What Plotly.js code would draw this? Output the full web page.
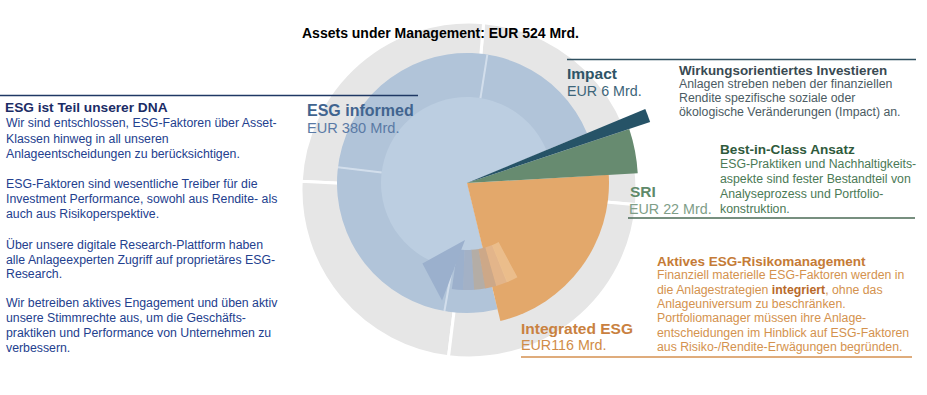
<!DOCTYPE html>
<html>
<head>
<meta charset="utf-8">
<script src="https://cdn.plot.ly/plotly-3.0.1.min.js"></script>
<style>
html,body{margin:0;padding:0;width:927px;height:395px;overflow:hidden;background:#fff;}
#chart{position:absolute;left:0;top:-65px;width:927px;height:460px;}
</style>
</head>
<body>
<div id="chart"></div>
<script>
// ---------------- data ----------------
const categories = ['Integrated ESG', 'SRI', 'Impact', 'ESG informed'];
const aumValues = [116, 22, 6, 380];            // EUR Mrd.
const totalAum = 524;                            // EUR Mrd.
const valueLabels = ['EUR116 Mrd.', 'EUR 22 Mrd.', 'EUR 6 Mrd.', 'EUR 380 Mrd.'];
const chartTitle = 'Assets under Management: EUR 524 Mrd.';

// ---------------- styles ----------------
const sliceColors = ['#e3a86b', '#678b70', '#265367', '#b1c4d9'];
const sliceRadius = [142, 171, 193, 130];        // visual radius (px) per slice
const startAngle = -76.4;                        // where the first slice begins
const FONT = 'Liberation Sans, Arial, sans-serif';

const W = 927, H = 460, OFF = 65;
const X = px => px / W;
const Y = py => 1 - (py + OFF) / H;
const dom = (cx, cy, R) => ({x: [X(cx - R), X(cx + R)], y: [Y(cy + R), Y(cy - R)]});

// slice geometry from values
const widths = aumValues.map(v => v / totalAum * 360);
const thetas = [];
let acc = startAngle;
widths.forEach(w => { thetas.push(acc + w / 2); acc += w; });

const traces = [];

// decorative grey outer ring (background subplot)
const ringCenters = [40, 131, 220, 309];
const ringWidths = [90, 92, 86, 92];
traces.push({
  type: 'barpolar', subplot: 'polar',
  theta: ringCenters, width: ringWidths,
  r: ringCenters.map(() => 58), base: ringCenters.map(() => 110),
  marker: {color: '#e6e6e6', line: {color: '#ffffff', width: 3}},
  hoverinfo: 'skip', showlegend: false
});

// data slices (ESG informed first so it sits below)
const order = [3, 0, 1, 2];
order.forEach(i => {
  traces.push({
    type: 'barpolar', subplot: 'polar2', name: categories[i],
    theta: [thetas[i]], width: [widths[i]], r: [sliceRadius[i]],
    marker: {color: sliceColors[i], line: {width: 0}},
    hovertemplate: categories[i] + ': ' + aumValues[i] + ' Mrd.<extra></extra>',
    showlegend: false
  });
  if (i === 3) {
    // lighter inner core of the ESG informed disc
    traces.push({
      type: 'barpolar', subplot: 'polar2',
      theta: [thetas[i]], width: [widths[i]], r: [86],
      marker: {color: '#bccee1', line: {width: 0}},
      hoverinfo: 'skip', showlegend: false
    });
    // faint segment separators in the blue band
    [81, 173, 260].forEach(a => {
      traces.push({
        type: 'scatterpolar', subplot: 'polar2', mode: 'lines',
        theta: [a, a], r: [86, 130],
        line: {color: 'rgba(214,225,237,0.9)', width: 2},
        hoverinfo: 'skip', showlegend: false
      });
    });
  }
});

// decorative curved arrow (blue fading into orange)
const arrowBody = [265, 271, 277, 283, 289, 295];
const arrowCols = ['#9cb0cc', '#a3b1c6', '#b4ada6', '#cda888', '#e3b58a', 'rgba(238,196,150,0.75)'];
traces.push({
  type: 'barpolar', subplot: 'polar2',
  theta: arrowBody, width: arrowBody.map(() => 6.3),
  r: arrowBody.map(() => 40), base: arrowBody.map(() => 67),
  marker: {color: arrowCols, line: {width: 0}},
  hoverinfo: 'skip', showlegend: false
});
traces.push({
  type: 'scatterpolar', subplot: 'polar2', mode: 'lines',
  theta: [268, 241, 258, 268], r: [57, 92, 120, 57],
  fill: 'toself', fillcolor: '#9bb0cd', line: {width: 0, color: '#9bb0cd'},
  hoverinfo: 'skip', showlegend: false
});

// ---------------- text ----------------
const ann = [];
function txt(x, y, text, size, color, opts) {
  ann.push(Object.assign({
    xref: 'paper', yref: 'paper', x: X(x - 2), y: Y(y), text: text,
    showarrow: false, xanchor: 'left', yanchor: 'middle',
    font: {family: FONT, size: size, color: color}
  }, opts || {}));
}

txt(442, 33, '<b>' + chartTitle + '</b>', 14, '#000000', {xanchor: 'center'});

// left block
txt(5, 108, '<b>ESG ist Teil unserer DNA</b>', 13.7, '#1b2c66');
const leftLines = [
  'Wir sind entschlossen, ESG-Faktoren über Asset-',
  'Klassen hinweg in all unseren',
  'Anlageentscheidungen zu berücksichtigen.',
  'ESG-Faktoren sind wesentliche Treiber für die',
  'Investment Performance, sowohl aus Rendite- als',
  'auch aus Risikoperspektive.',
  'Über unsere digitale Research-Plattform haben',
  'alle Anlageexperten Zugriff auf proprietäres ESG-',
  'Research.',
  'Wir betreiben aktives Engagement und üben aktiv',
  'unsere Stimmrechte aus, um die Geschäfts-',
  'praktiken und Performance von Unternehmen zu',
  'verbessern.'
];
const leftY = [123, 139, 154, 184, 199, 214, 245, 260, 274, 303, 318, 333, 348];
leftLines.forEach((l, k) => txt(6, leftY[k], l, 12.3, '#23408e'));

// slice labels
txt(307, 110, '<b>' + categories[3] + '</b>', 16, '#41648f');
txt(307, 128, valueLabels[3], 14.6, '#5a7aa5');
txt(567, 74, '<b>' + categories[2] + '</b>', 15.5, '#2e5466');
txt(567, 91, valueLabels[2], 14.3, '#3d6579');
txt(630, 191, '<b>' + categories[1] + '</b>', 15.5, '#5f8a6a');
txt(629, 209, valueLabels[1], 14.3, '#809e88');
txt(521, 328, '<b>' + categories[0] + '</b>', 15.5, '#c98140');
txt(521, 345, valueLabels[0], 14.3, '#d08c48');

// right descriptions
txt(679, 70, '<b>Wirkungsorientiertes Investieren</b>', 13.4, '#3a4a52');
['Anlagen streben neben der finanziellen', 'Rendite spezifische soziale oder',
 'ökologische Veränderungen (Impact) an.'].forEach((l, k) => txt(679, [84, 98, 112][k], l, 12.3, '#4b5b63'));

txt(720, 149, '<b>Best-in-Class Ansatz</b>', 13.6, '#2f5a3c');
['ESG-Praktiken und Nachhaltigkeits-', 'aspekte sind fester Bestandteil von',
 'Analyseprozess und Portfolio-', 'konstruktion.'].forEach((l, k) => txt(720, [164, 179, 194, 209][k], l, 12.3, '#4b7a56'));

txt(657, 261, '<b>Aktives ESG-Risikomanagement</b>', 13.5, '#c57b36');
['Finanziell materielle ESG-Faktoren werden in',
 'die Anlagestrategien <b><span style="color:#b8692a">integriert</span></b>, ohne das',
 'Anlageuniversum zu beschränken.',
 'Portfoliomanager müssen ihre Anlage-',
 'entscheidungen im Hinblick auf ESG-Faktoren',
 'aus Risiko-/Rendite-Erwägungen begründen.'].forEach((l, k) => txt(657, [275, 290, 304, 318, 333, 347][k], l, 12.3, '#d4924e'));

// rules
const rule = (x0, x1, y, color) => ({type: 'line', xref: 'paper', yref: 'paper',
  x0: X(x0), x1: X(x1), y0: Y(y), y1: Y(y), line: {color: color, width: 1.3}});
const shapes = [
  rule(0, 418, 95.5, '#1f3864'),
  rule(567, 916, 59.5, '#2f4f5f'),
  rule(628, 915, 218, '#4a6a55'),
  rule(521, 912, 357, '#d49050')
];

const axisOff = {
  radialaxis: {range: [0, 200], visible: false, showgrid: false},
  angularaxis: {rotation: 0, direction: 'counterclockwise', visible: false, showgrid: false},
  bgcolor: 'rgba(0,0,0,0)', barmode: 'overlay', bargap: 0
};

const layout = {
  width: W, height: H,
  margin: {l: 0, r: 0, t: 0, b: 0},
  paper_bgcolor: '#ffffff', plot_bgcolor: '#ffffff',
  showlegend: false,
  polar: Object.assign({domain: dom(469, 190, 200)}, JSON.parse(JSON.stringify(axisOff))),
  polar2: Object.assign({domain: dom(467, 183, 200)}, JSON.parse(JSON.stringify(axisOff))),
  annotations: ann,
  shapes: shapes
};

Plotly.newPlot('chart', traces, layout, {displayModeBar: false, staticPlot: true});
</script>
</body>
</html>
